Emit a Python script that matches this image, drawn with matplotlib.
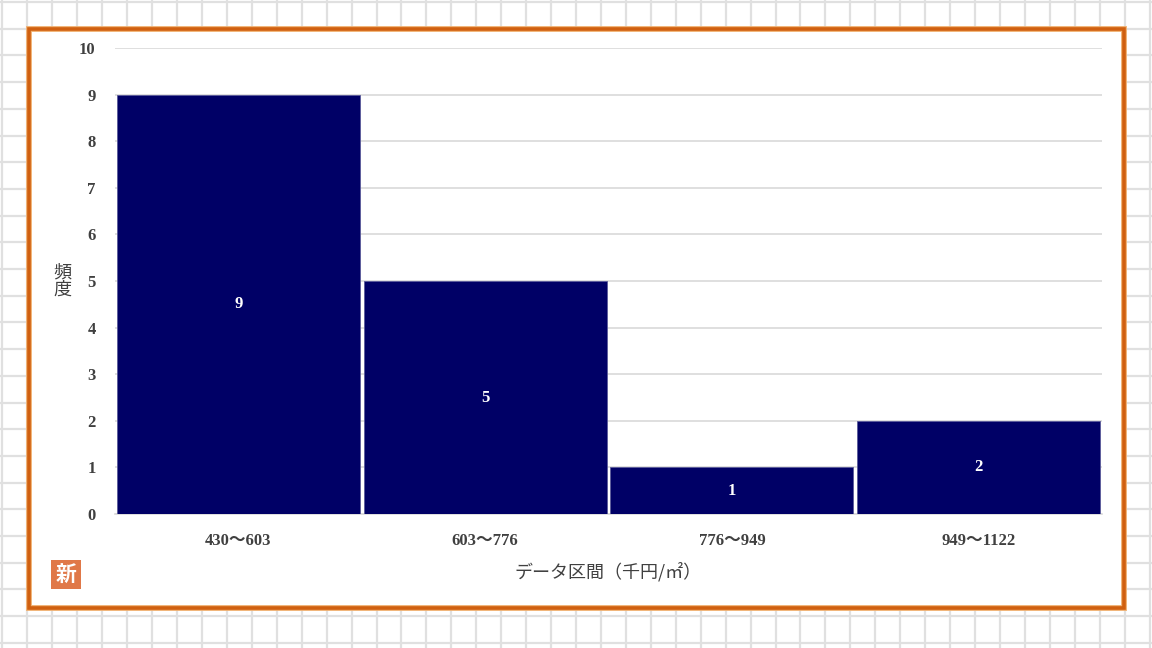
import matplotlib
matplotlib.use("Agg")
import matplotlib.pyplot as plt
from matplotlib.patches import Rectangle
import numpy as np

plt.rcParams['font.family'] = ['Liberation Serif', 'Noto Sans CJK JP', 'DejaVu Sans']

# データ
categories = ["430～603", "603～776", "776～949", "949～1122"]
counts = [9, 5, 1, 2]
y_ticks = list(range(0, 11))
x_title = "データ区間（千円/㎡）"
y_title = "頻度"

W, H = 1152, 648
fig = plt.figure(figsize=(W / 100, H / 100), dpi=100)

# 背景のシート風グリッド
bg = fig.add_axes([0, 0, 1, 1])
bg.set_xlim(0, W)
bg.set_ylim(H, 0)
bg.axis('off')
for x in np.arange(2.4, W, 24.94):
    bg.axvline(x, color='#e0e0e0', lw=1.6, zorder=0)
for y in np.arange(2.0, H, 26.7):
    bg.axhline(y, color='#e0e0e0', lw=1.6, zorder=0)

# 枠
bg.add_patch(Rectangle((28.5, 28.5), 1095, 579, facecolor='white',
                       edgecolor='#f0b070', lw=4.2, zorder=1))
bg.add_patch(Rectangle((28.5, 28.5), 1095, 579, facecolor='none',
                       edgecolor='#d06010', lw=2.6, zorder=2))

# ロゴ
bg.add_patch(Rectangle((51, 560), 30, 29, facecolor='#e07848',
                       edgecolor='none', zorder=3))
bg.text(66, 575, "新", color='white', fontsize=15, fontweight='bold',
        ha='center', va='center', family=['Noto Sans CJK JP'], zorder=4)

# グラフ本体
ax = fig.add_axes([115 / W, 1 - 514 / H, 987 / W, 466 / H])
x = np.arange(len(categories))
bars = ax.bar(x, counts, width=0.985, color='#000066', edgecolor='#5a5a9a',
              lw=0.6, zorder=3)
ax.set_xlim(-0.5, len(categories) - 0.5)
ax.set_ylim(0, 10)
ax.set_yticks(y_ticks)
ax.set_xticks(x)
ax.set_xticklabels(categories)
ax.grid(axis='y', color='#d9d9d9', lw=1.2, zorder=0)
for s in ['top', 'right', 'left']:
    ax.spines[s].set_visible(False)
ax.spines['bottom'].set_color('#d9d9d9')
ax.spines['bottom'].set_linewidth(1.2)
ax.tick_params(length=0, colors='#404040', labelsize=12)
ax.tick_params(axis='y', pad=14)
ax.tick_params(axis='x', pad=14)
for lab in ax.get_xticklabels() + ax.get_yticklabels():
    lab.set_fontweight('bold')

for b, v in zip(bars, counts):
    ax.text(b.get_x() + b.get_width() / 2, v / 2, str(v), color='white',
            ha='center', va='center', fontsize=12, fontweight='bold', zorder=4)

bg.text(608, 572, x_title, color='#404040', fontsize=13, ha='center',
        va='center', zorder=4, family=['Noto Sans CJK JP', 'DejaVu Sans'])
bg.text(62, 281, "頻\n度", color='#404040', fontsize=13, ha='center',
        va='center', linespacing=1.0, zorder=4, family=['Noto Sans CJK JP'])

fig.savefig("out.png", dpi=100)
